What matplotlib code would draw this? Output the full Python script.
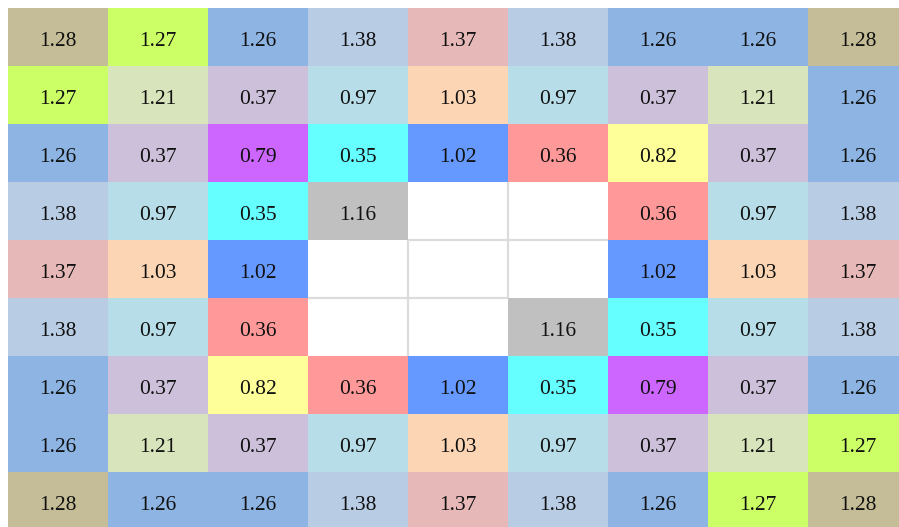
import numpy as np
import matplotlib
matplotlib.use("Agg")
import matplotlib.pyplot as plt
from matplotlib.patches import Rectangle

nan = np.nan
values = [
    [1.28, 1.27, 1.26, 1.38, 1.37, 1.38, 1.26, 1.26, 1.28],
    [1.27, 1.21, 0.37, 0.97, 1.03, 0.97, 0.37, 1.21, 1.26],
    [1.26, 0.37, 0.79, 0.35, 1.02, 0.36, 0.82, 0.37, 1.26],
    [1.38, 0.97, 0.35, 1.16, nan, nan, 0.36, 0.97, 1.38],
    [1.37, 1.03, 1.02, nan, nan, nan, 1.02, 1.03, 1.37],
    [1.38, 0.97, 0.36, nan, nan, 1.16, 0.35, 0.97, 1.38],
    [1.26, 0.37, 0.82, 0.36, 1.02, 0.35, 0.79, 0.37, 1.26],
    [1.26, 1.21, 0.37, 0.97, 1.03, 0.97, 0.37, 1.21, 1.27],
    [1.28, 1.26, 1.26, 1.38, 1.37, 1.38, 1.26, 1.27, 1.28],
]

value_colors = {
    "1.28": "#c4bd97",
    "1.27": "#ccff66",
    "1.26": "#8db4e2",
    "1.38": "#b8cce4",
    "1.37": "#e6b8b7",
    "1.21": "#d8e4bc",
    "0.37": "#ccc0da",
    "0.97": "#b7dee8",
    "1.03": "#fcd5b4",
    "0.79": "#cc66ff",
    "0.35": "#66ffff",
    "1.02": "#6699ff",
    "0.36": "#ff9999",
    "0.82": "#ffff99",
    "1.16": "#c0c0c0",
}

arr = np.array(values, dtype=float)
nrows, ncols = arr.shape

W, H = 899, 527
fig = plt.figure(figsize=(W / 100, H / 100), dpi=100)
# table spans pixels x 8..908, y 8..530 (clipped by the image)
ax = fig.add_axes([8 / W, (H - 530) / H, 900 / W, 522 / H])
ax.set_xlim(0, ncols)
ax.set_ylim(nrows, 0)
ax.axis("off")

empty = np.isnan(arr)
# light grid lines between adjacent empty cells
for r in range(nrows):
    for c in range(ncols):
        if not empty[r, c]:
            continue
        if c + 1 < ncols and empty[r, c + 1]:
            ax.plot([c + 1, c + 1], [r, r + 1], color="#dcdcdc", lw=1.6,
                    solid_capstyle="butt", zorder=1)
        if r + 1 < nrows and empty[r + 1, c]:
            ax.plot([c, c + 1], [r + 1, r + 1], color="#dcdcdc", lw=1.6,
                    solid_capstyle="butt", zorder=1)

for r in range(nrows):
    for c in range(ncols):
        v = arr[r, c]
        if np.isnan(v):
            continue
        key = f"{v:.2f}"
        ax.add_patch(Rectangle((c, r), 1, 1, facecolor=value_colors[key],
                               edgecolor="none", zorder=2))
        ax.text(c + 0.5, r + 0.655, key, ha="center", va="baseline",
                fontsize=15.5, family="Liberation Serif", color="#111111",
                zorder=3)

fig.savefig("out.png", dpi=100, facecolor="white")
